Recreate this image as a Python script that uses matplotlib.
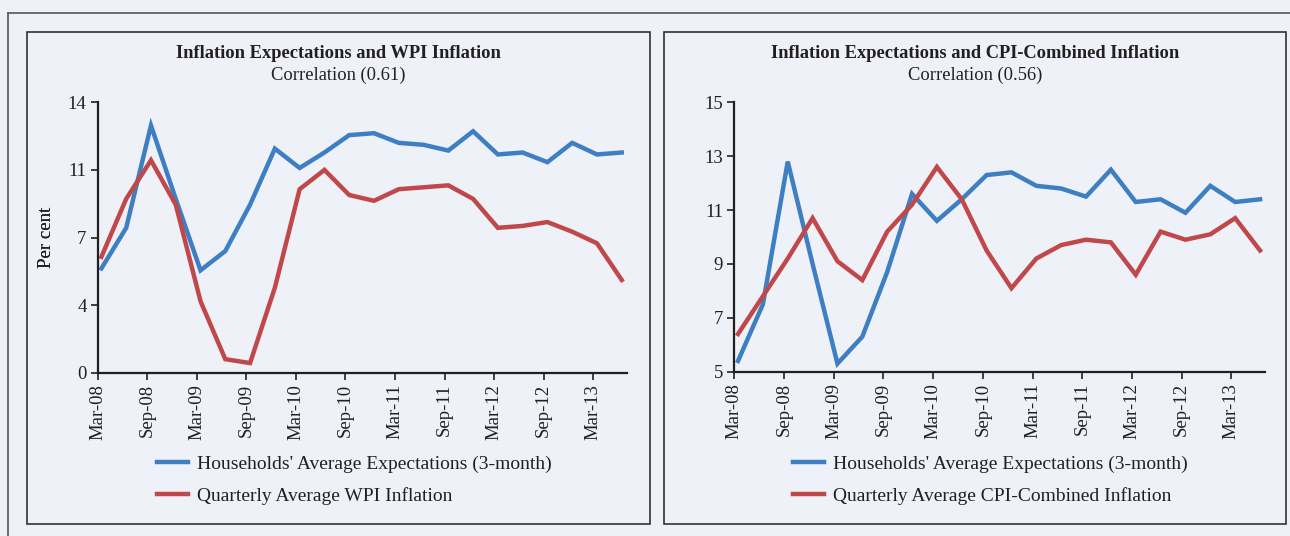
import numpy as np
import matplotlib
matplotlib.use("Agg")
import matplotlib.pyplot as plt
from matplotlib.patches import Rectangle
from matplotlib.lines import Line2D

# quarterly observations, Mar-08 .. Jun-13
quarters = ["Mar-08", "Jun-08", "Sep-08", "Dec-08", "Mar-09", "Jun-09", "Sep-09", "Dec-09",
            "Mar-10", "Jun-10", "Sep-10", "Dec-10", "Mar-11", "Jun-11", "Sep-11", "Dec-11",
            "Mar-12", "Jun-12", "Sep-12", "Dec-12", "Mar-13", "Jun-13"]

hh_expect = [5.4, 7.5, 12.8, 9.0, 5.3, 6.3, 8.7, 11.6, 10.6, 11.4, 12.3, 12.4,
             11.9, 11.8, 11.5, 12.5, 11.3, 11.4, 10.9, 11.9, 11.3, 11.4]
wpi = [6.0, 9.0, 11.0, 8.7, 3.7, 0.7, 0.5, 4.4, 9.5, 10.5, 9.2, 8.9,
       9.5, 9.6, 9.7, 9.0, 7.5, 7.6, 7.8, 7.3, 6.7, 4.8]
cpi = [6.4, 7.8, 9.2, 10.7, 9.1, 8.4, 10.2, 11.2, 12.6, 11.4, 9.5, 8.1,
       9.2, 9.7, 9.9, 9.8, 8.6, 10.2, 9.9, 10.1, 10.7, 9.5]

left_titles = ["Inflation Expectations and WPI Inflation", "Correlation (0.61)"]
right_titles = ["Inflation Expectations and CPI-Combined Inflation", "Correlation (0.56)"]
left_labels = ["Households' Average Expectations (3-month)", "Quarterly Average WPI Inflation"]
right_labels = ["Households' Average Expectations (3-month)", "Quarterly Average CPI-Combined Inflation"]

left_yticks = [0, 3.5, 7, 10.5, 14]
left_yticklabels = ["0", "4", "7", "11", "14"]
right_yticks = [5, 7, 9, 11, 13, 15]

BG = "#eef1f8"
BLUE = "#3d7fc2"
RED = "#c0484a"
INK = "#231f20"

plt.rcParams["font.family"] = ["Liberation Serif", "DejaVu Serif"]
plt.rcParams["text.color"] = INK

W, H = 1290, 536
fig = plt.figure(figsize=(W / 100, H / 100), dpi=100, facecolor=BG)


def fx(px):
    return px / W


def fy(py):
    return 1 - py / H


# outer frame (top and left only visible)
fig.add_artist(Line2D([fx(8), 1], [fy(13), fy(13)], color="#555555", lw=1.2))
fig.add_artist(Line2D([fx(8), fx(8)], [fy(13), 0], color="#555555", lw=1.2))

# panel boxes
for x0, x1 in [(27, 650), (664, 1286)]:
    fig.add_artist(Rectangle((fx(x0), fy(524)), fx(x1) - fx(x0), fy(32) - fy(524),
                             fill=False, edgecolor="#333333", lw=1.2))

x = np.arange(len(quarters))
tick_pos = x[::2] - 0.15
tick_lab = quarters[::2]

panels = [
    (97.7, 626.7, 102.3, 372.7, wpi, left_titles, left_labels, (0, 14), left_yticks, left_yticklabels, 338.5, 157),
    (734.3, 1265, 102.3, 371.7, cpi, right_titles, right_labels, (5, 15), right_yticks,
     [str(v) for v in right_yticks], 975, 793),
]

for (x0, x1, y0, y1, series, titles, labels, ylim, yticks, yticklabels, cx, legx) in panels:
    ax = fig.add_axes([fx(x0), fy(y1), fx(x1) - fx(x0), fy(y0) - fy(y1)])
    ax.set_facecolor(BG)
    ax.plot(x, hh_expect, color=BLUE, lw=3.2, label=labels[0], solid_joinstyle="miter")
    ax.plot(x, series, color=RED, lw=3.2, label=labels[1], solid_joinstyle="miter")
    ax.set_xlim(-0.15, 21.2)
    ax.set_ylim(*ylim)
    ax.set_yticks(yticks)
    ax.set_yticklabels(yticklabels)
    ax.set_xticks(tick_pos)
    ax.set_xticklabels(tick_lab, rotation=90)
    for s in ["top", "right"]:
        ax.spines[s].set_visible(False)
    for s in ["left", "bottom"]:
        ax.spines[s].set_color(INK)
        ax.spines[s].set_linewidth(1.6)
    ax.tick_params(axis="both", direction="out", length=5, width=1.2, color=INK,
                   labelsize=13.5, labelcolor=INK, pad=3)
    ax.set_ylabel("Per cent", fontsize=13.5, color=INK, fontweight="normal")
    ax.yaxis.set_label_coords((55 - x0) / (x1 - x0), 0.5)

    fig.text(fx(cx), fy(53), titles[0], ha="center", va="center", fontsize=13.3, fontweight="bold")
    fig.text(fx(cx), fy(75), titles[1], ha="center", va="center", fontsize=13.3)

    ax.legend(loc="upper left", bbox_to_anchor=(fx(legx), fy(455)), bbox_transform=fig.transFigure,
              frameon=False, fontsize=14, handlelength=1.6, handletextpad=0.45,
              labelspacing=0.72, borderpad=0, borderaxespad=0)

fig.savefig("out.png", dpi=100, facecolor=BG)
